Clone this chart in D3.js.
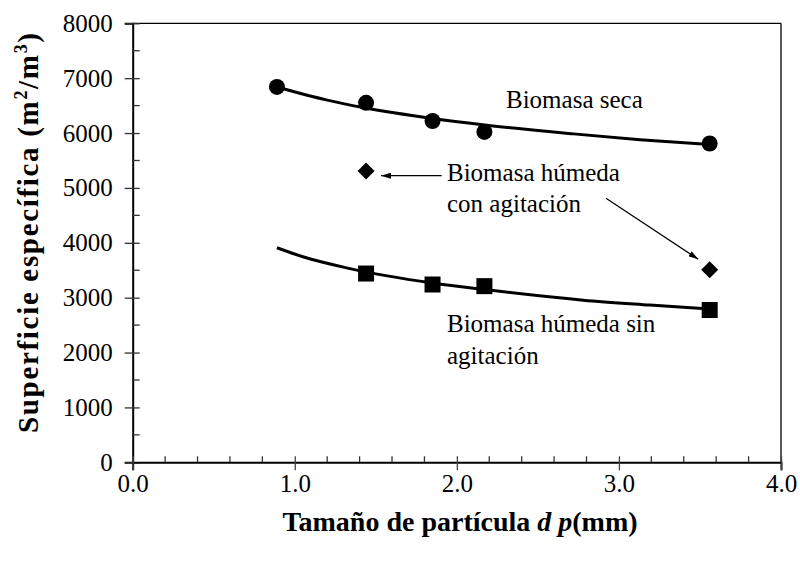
<!DOCTYPE html>
<html>
<head>
<meta charset="utf-8">
<script src="https://cdn.jsdelivr.net/npm/d3@7"></script>
<style>
  html, body { margin: 0; padding: 0; background: #fff; }
</style>
</head>
<body>
<svg id="chart" width="800" height="565"></svg>
<script>
// Specific surface vs particle size, three biomass conditions
const xSeca = [0.89, 1.44, 1.85, 2.17, 3.56];
const ySeca = [6840, 6550, 6220, 6020, 5810];

const xSinAgit = [1.44, 1.85, 2.17, 3.56];
const ySinAgit = [3440, 3240, 3210, 2775];

const xConAgit = [1.44, 3.56];
const yConAgit = [5310, 3510];

// Trend curves
const xFitSeca = [0.89, 1.2, 1.43, 1.85, 2.16, 2.72, 3.13, 3.56];
const yFitSeca = [6840, 6600, 6460, 6265, 6150, 5985, 5880, 5790];

const xFitSin = [0.89, 1.05, 1.34, 1.85, 2.17, 2.78, 3.19, 3.56];
const yFitSin = [3910, 3745, 3530, 3268, 3148, 2955, 2866, 2792];

const xMajorTicks = [0, 1, 2, 3, 4];
const xTickLabels = ["0.0", "1.0", "2.0", "3.0", "4.0"];
const xMinorTicks = [0.2, 0.4, 0.6, 0.8, 1.2, 1.4, 1.6, 1.8, 2.2, 2.4, 2.6, 2.8, 3.2, 3.4, 3.6, 3.8];
const yMajorTicks = [0, 1000, 2000, 3000, 4000, 5000, 6000, 7000, 8000];
const yMinorTicks = [500, 1500, 2500, 3500, 4500, 5500, 6500, 7500];

const FONT = "Liberation Serif";
const svg = d3.select("#chart").attr("font-family", FONT);
const L = 132.7, R = 781, T = 23.3, B = 462.3;

const x = d3.scaleLinear().domain([0, 4]).range([L, R]);
const y = d3.scaleLinear().domain([0, 8000]).range([B, T]);

// frame: top and right borders
svg.append("line").attr("x1", L).attr("x2", R).attr("y1", T).attr("y2", T)
  .attr("stroke", "#000").attr("stroke-width", 1.3);
svg.append("line").attr("x1", R).attr("x2", R).attr("y1", T).attr("y2", B)
  .attr("stroke", "#000").attr("stroke-width", 1.3);

// y axis: major ticks cross the axis, minor ticks point inward
const yAxis = svg.append("g").attr("transform", `translate(${L},0)`)
  .call(d3.axisLeft(y).tickValues(yMajorTicks).tickSize(8).tickPadding(12)
    .tickFormat(d3.format("d")));
yAxis.attr("font-family", FONT).attr("font-size", 25);
yAxis.select(".domain").attr("stroke-width", 2);
yAxis.selectAll(".tick line").attr("x1", 7).attr("stroke", "#333").attr("stroke-width", 1.3);
yAxis.selectAll(".tick text").attr("fill", "#000").attr("font-family", FONT);
svg.append("g").selectAll("line").data(yMinorTicks).join("line")
  .attr("x1", L).attr("x2", L + 7).attr("y1", d => y(d)).attr("y2", d => y(d))
  .attr("stroke", "#333").attr("stroke-width", 1.3);

// x axis
const xAxis = svg.append("g").attr("transform", `translate(0,${B})`)
  .call(d3.axisBottom(x).tickValues(xMajorTicks).tickSize(8).tickPadding(4)
    .tickFormat((d, i) => xTickLabels[i]));
xAxis.attr("font-family", FONT).attr("font-size", 25);
xAxis.select(".domain").attr("stroke-width", 2);
xAxis.selectAll(".tick line").attr("y1", -6).attr("stroke", "#444").attr("stroke-width", 1.3);
xAxis.selectAll(".tick text").attr("fill", "#000").attr("font-family", FONT);
svg.append("g").selectAll("line").data(xMinorTicks).join("line")
  .attr("x1", d => x(d)).attr("x2", d => x(d)).attr("y1", B).attr("y2", B - 6)
  .attr("stroke", "#333").attr("stroke-width", 1.3);

// fit curves
const line = d3.line().x(d => x(d[0])).y(d => y(d[1])).curve(d3.curveMonotoneX);
svg.append("path").datum(d3.zip(xFitSeca, yFitSeca)).attr("d", line)
  .attr("fill", "none").attr("stroke", "#000").attr("stroke-width", 3);
svg.append("path").datum(d3.zip(xFitSin, yFitSin)).attr("d", line)
  .attr("fill", "none").attr("stroke", "#000").attr("stroke-width", 3);

// markers
svg.append("g").selectAll("circle").data(d3.zip(xSeca, ySeca)).join("circle")
  .attr("cx", d => x(d[0])).attr("cy", d => y(d[1])).attr("r", 8).attr("fill", "#000");
svg.append("g").selectAll("rect").data(d3.zip(xSinAgit, ySinAgit)).join("rect")
  .attr("x", d => x(d[0]) - 8).attr("y", d => y(d[1]) - 8)
  .attr("width", 16).attr("height", 16).attr("fill", "#000");
svg.append("g").selectAll("path").data(d3.zip(xConAgit, yConAgit)).join("path")
  .attr("transform", d => `translate(${x(d[0])},${y(d[1])})`)
  .attr("d", "M0,-8.5L8.5,0L0,8.5L-8.5,0Z").attr("fill", "#000");

// arrows
const defs = svg.append("defs");
defs.append("marker").attr("id", "head").attr("viewBox", "0 0 10 6")
  .attr("refX", 10).attr("refY", 3).attr("markerWidth", 10).attr("markerHeight", 6)
  .attr("markerUnits", "userSpaceOnUse").attr("orient", "auto")
  .append("path").attr("d", "M0,0L10,3L0,6Z").attr("fill", "#000");
svg.append("line").attr("x1", 441.7).attr("y1", 175.7).attr("x2", 381).attr("y2", 175.7)
  .attr("stroke", "#000").attr("stroke-width", 1.3).attr("marker-end", "url(#head)");
svg.append("line").attr("x1", 606).attr("y1", 198.3).attr("x2", 698.3).attr("y2", 259.3)
  .attr("stroke", "#000").attr("stroke-width", 1.3).attr("marker-end", "url(#head)");

// series labels
const label = (txt, lx, ly) => svg.append("text").attr("x", lx).attr("y", ly)
  .attr("font-family", FONT).attr("font-size", 25).text(txt);
label("Biomasa seca", 506, 108);
label("Biomasa húmeda", 447, 181);
label("con agitación", 447, 212);
label("Biomasa húmeda sin", 447, 332);
label("agitación", 447, 364);

// axis titles
const xt = svg.append("text").attr("x", 460).attr("y", 531)
  .attr("text-anchor", "middle").attr("font-family", FONT)
  .attr("font-size", 28).attr("font-weight", "bold");
xt.append("tspan").text("Tamaño de partícula ");
xt.append("tspan").attr("font-style", "italic").text("d p");
xt.append("tspan").text("(mm)");

const yt = svg.append("text").attr("transform", "translate(38,233) rotate(-90)")
  .attr("text-anchor", "middle").attr("font-family", FONT)
  .attr("font-size", 29).attr("font-weight", "bold")
  .attr("textLength", 400).attr("lengthAdjust", "spacing");
yt.append("tspan").text("Superficie específica (m");
yt.append("tspan").attr("font-size", 18).attr("dy", -11).text("2");
yt.append("tspan").attr("dy", 11).text("/m");
yt.append("tspan").attr("font-size", 18).attr("dy", -11).text("3");
yt.append("tspan").attr("dy", 11).text(")");
</script>
</body>
</html>
